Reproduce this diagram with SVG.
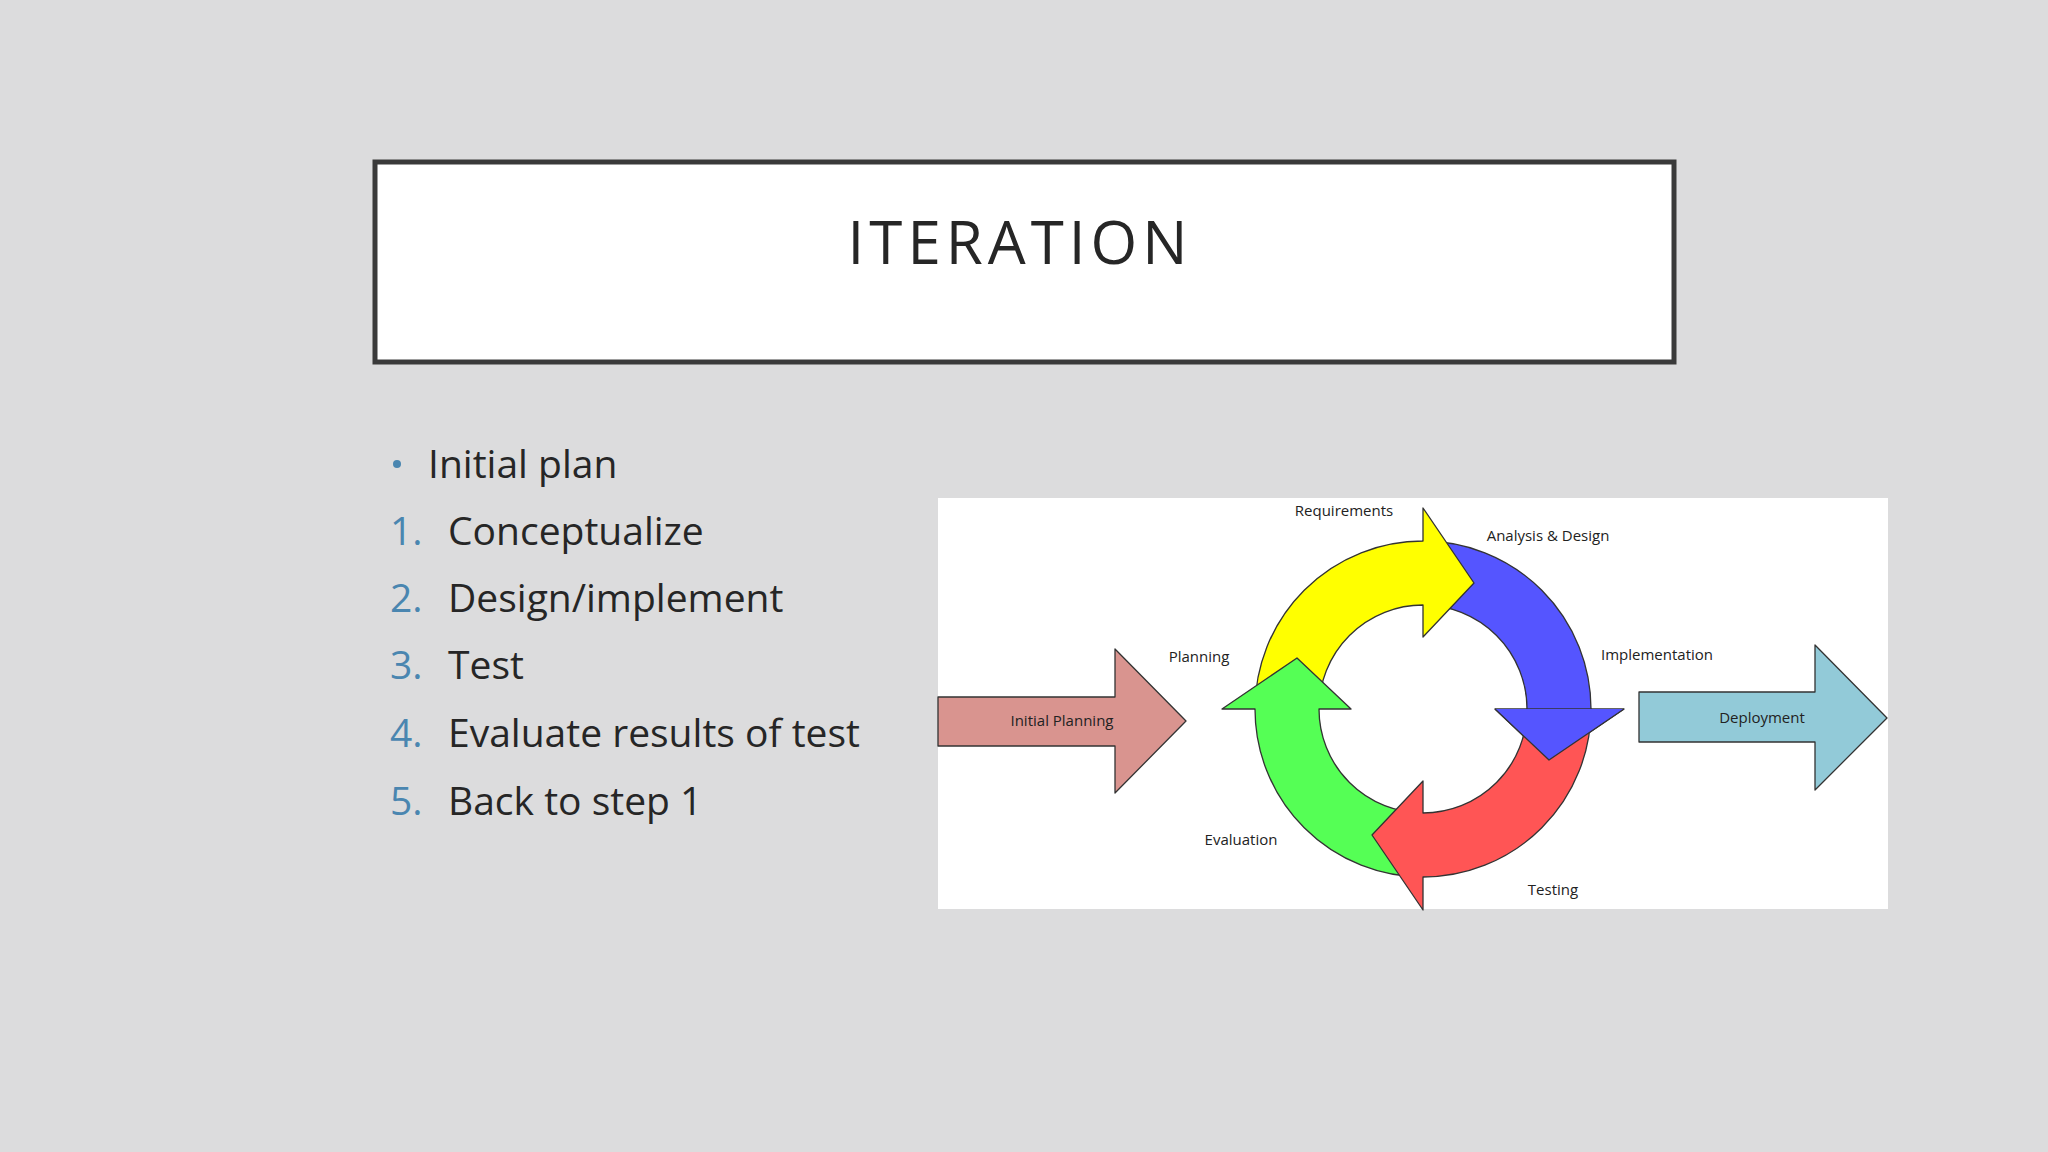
<svg xmlns="http://www.w3.org/2000/svg" width="2048" height="1152" viewBox="0 0 2048 1152">
<style>
.b{font-family:"Open Sans","Liberation Sans",sans-serif;font-size:39px;fill:#262626}
.n{font-family:"Open Sans","Liberation Sans",sans-serif;font-size:39px;fill:#4a86b0}
.l{font-family:"Open Sans","Liberation Sans",sans-serif;font-size:15px;fill:#222;text-anchor:middle}
.ar{stroke:#333;stroke-width:1.3;stroke-linejoin:round}
</style>
<rect width="2048" height="1152" fill="#dcdcdd"/>
<g id="title"><rect x="375" y="162" width="1299" height="200" fill="#fff" stroke="#3a3a3a" stroke-width="5"/>
<text x="1020" y="264" text-anchor="middle" font-family="Open Sans,Liberation Sans,sans-serif" font-size="60" letter-spacing="5" fill="#262626">ITERATION</text></g>
<g id="list">
<circle cx="397" cy="464" r="4" fill="#4a86b0"/>
<text class="b" x="428" y="478">Initial plan</text>
<text class="n" x="390" y="545">1.</text><text class="b" x="448" y="545">Conceptualize</text>
<text class="n" x="390" y="612">2.</text><text class="b" x="448" y="612">Design/implement</text>
<text class="n" x="390" y="679">3.</text><text class="b" x="448" y="679">Test</text>
<text class="n" x="390" y="747">4.</text><text class="b" x="448" y="747">Evaluate results of test</text>
<text class="n" x="390" y="815">5.</text><text class="b" x="448" y="815">Back to step 1</text>
</g>
<rect x="938" y="498" width="950" height="411" fill="#fff"/>
<g id="initial"><path class="ar" d="M938 697H1115V649L1186 721L1115 793V746H938Z" fill="#d9948f"/><text class="l" x="1062" y="726">Initial Planning</text></g>
<g id="deploy"><path class="ar" d="M1639 692H1815V645L1887 718L1815 790V742H1639Z" fill="#92cad8"/><text class="l" x="1762" y="723">Deployment</text></g>
<g id="cycle">
<path class="ar" fill="#5555ff" d="M1423 541A168 168 0 0 1 1591 709L1624 709L1549 760L1495 709L1527 709A104 104 0 0 0 1423 605Z"/>
<path class="ar" fill="#ffff00" d="M1255 709A168 168 0 0 1 1423 541L1423 508L1474 583L1423 637L1423 605A104 104 0 0 0 1319 709Z"/>
<path class="ar" fill="#55ff55" d="M1423 877A168 168 0 0 1 1255 709L1222 709L1297 658L1351 709L1319 709A104 104 0 0 0 1423 813Z"/>
<path class="ar" fill="#ff5555" d="M1591 709A168 168 0 0 1 1423 877L1423 910L1372 835L1423 781L1423 813A104 104 0 0 0 1527 709Z"/>
<path fill="#5555ff" d="M1624 709L1549 760L1495 709Z"/>
<path class="ar" fill="none" d="M1624 709L1549 760L1495 709"/>
</g>
<g id="labels">
<text class="l" x="1344" y="516">Requirements</text>
<text class="l" x="1548" y="541">Analysis &amp; Design</text>
<text class="l" x="1199" y="662">Planning</text>
<text class="l" x="1657" y="660">Implementation</text>
<text class="l" x="1241" y="845">Evaluation</text>
<text class="l" x="1553" y="895">Testing</text>
</g>
</svg>
